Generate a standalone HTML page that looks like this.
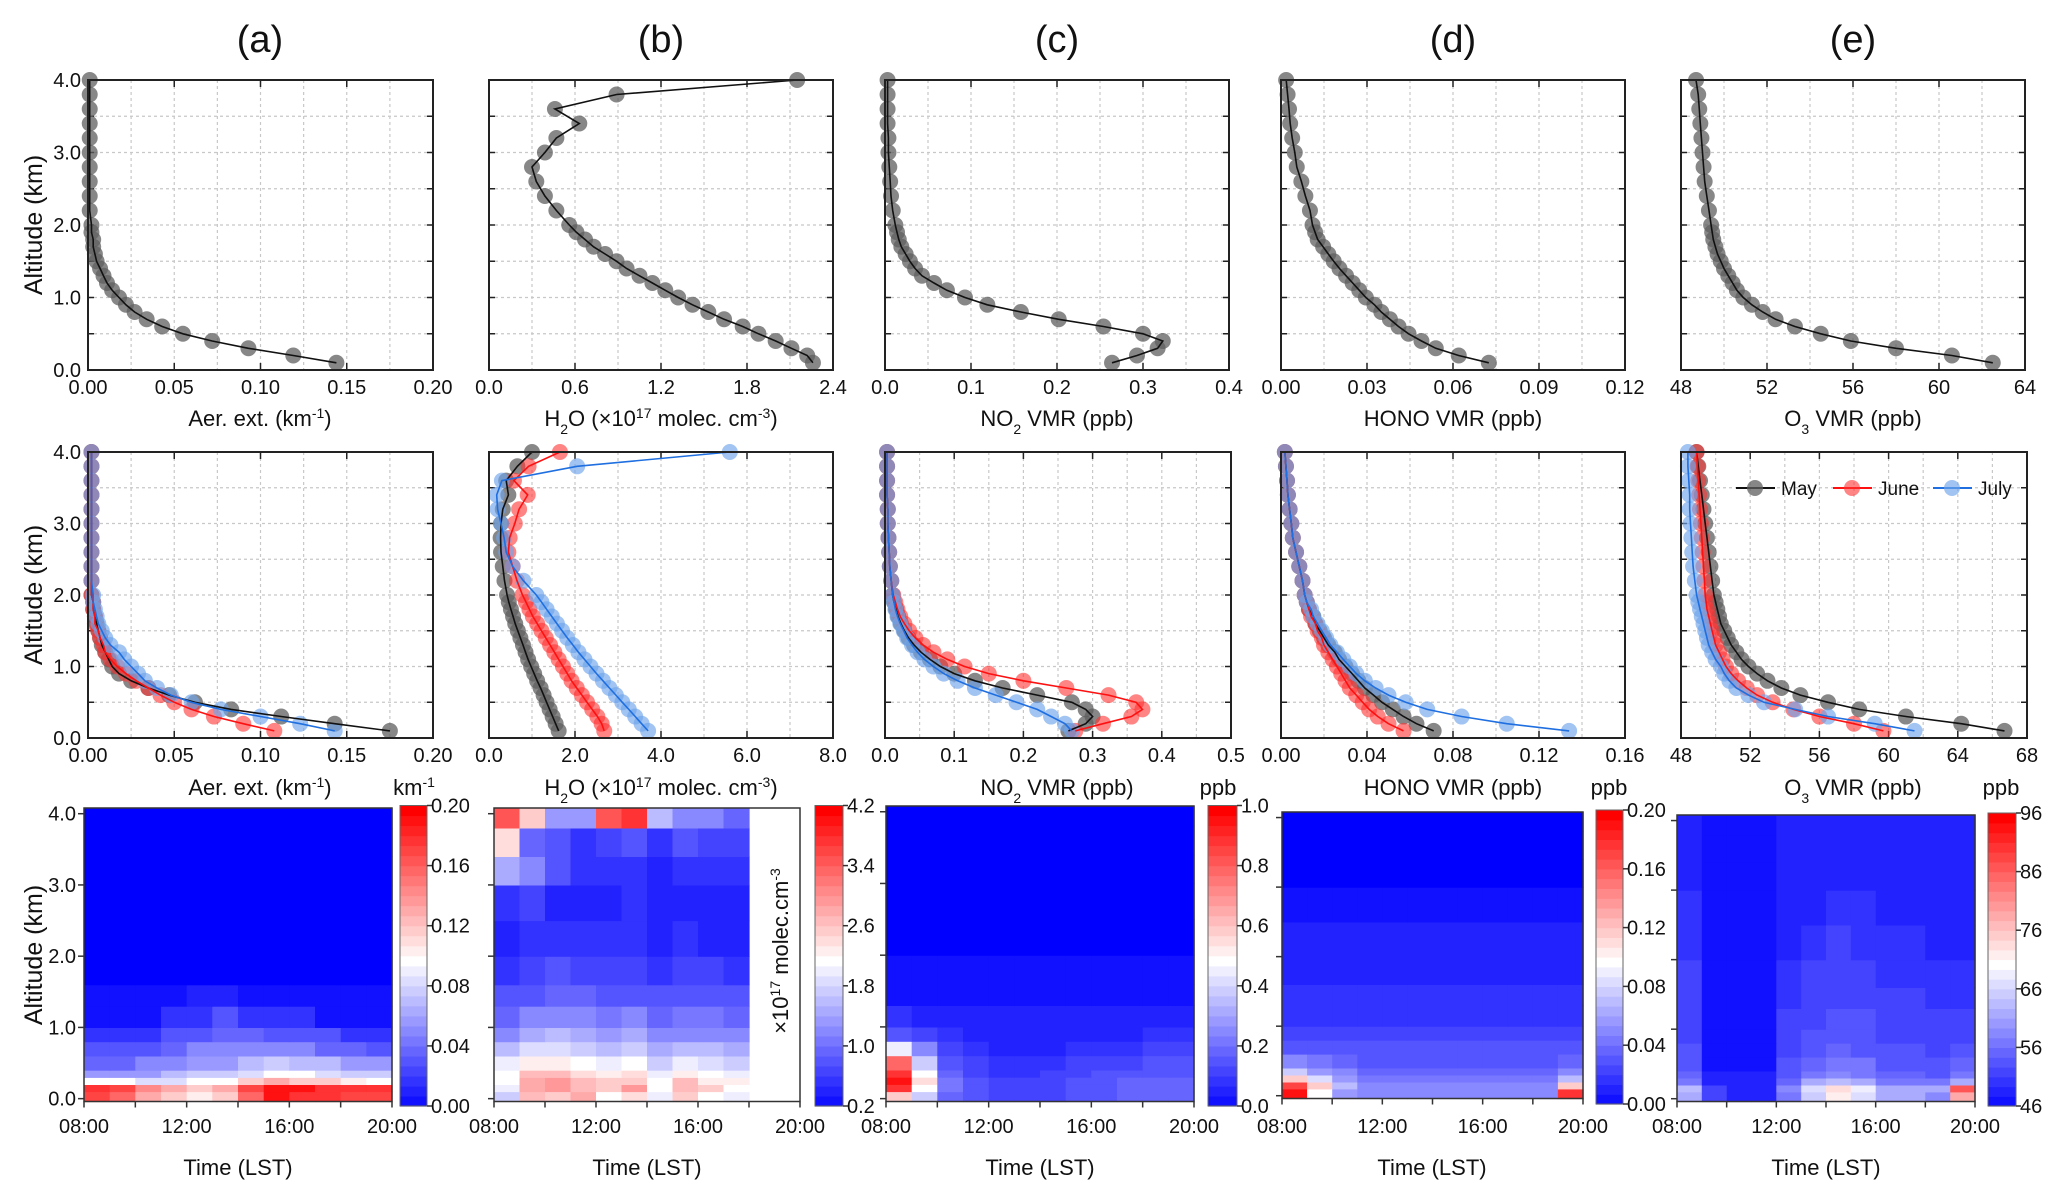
<!DOCTYPE html>
<html><head><meta charset="utf-8"><style>
html,body{margin:0;padding:0;background:#fff;}
svg{display:block;font-family:"Liberation Sans",sans-serif;}
</style></head><body>
<svg id="fig" width="2067" height="1199" viewBox="0 0 2067 1199" xmlns="http://www.w3.org/2000/svg">
<rect x="0" y="0" width="2067" height="1199" fill="#fff"/>
<g font-size="38" text-anchor="middle" fill="#111">
<text x="260" y="52">(a)</text>
<text x="661" y="52">(b)</text>
<text x="1057" y="52">(c)</text>
<text x="1453" y="52">(d)</text>
<text x="1853" y="52">(e)</text>
</g>
<g font-size="25" text-anchor="middle" fill="#111">
<text transform="translate(42,225) rotate(-90)">Altitude (km)</text>
<text transform="translate(42,595) rotate(-90)">Altitude (km)</text>
<text transform="translate(42,955) rotate(-90)">Altitude (km)</text>
</g>
<g font-size="22" text-anchor="middle" fill="#111">
<text x="260" y="426">Aer. ext. (km<tspan baseline-shift="super" font-size="14">-1</tspan>)</text>
<text x="661" y="426">H<tspan baseline-shift="sub" font-size="14">2</tspan>O (×10<tspan baseline-shift="super" font-size="14">17</tspan> molec. cm<tspan baseline-shift="super" font-size="14">-3</tspan>)</text>
<text x="1057" y="426">NO<tspan baseline-shift="sub" font-size="14">2</tspan> VMR (ppb)</text>
<text x="1453" y="426">HONO VMR (ppb)</text>
<text x="1853" y="426">O<tspan baseline-shift="sub" font-size="14">3</tspan> VMR (ppb)</text>
<text x="260" y="795">Aer. ext. (km<tspan baseline-shift="super" font-size="14">-1</tspan>)</text>
<text x="661" y="795">H<tspan baseline-shift="sub" font-size="14">2</tspan>O (×10<tspan baseline-shift="super" font-size="14">17</tspan> molec. cm<tspan baseline-shift="super" font-size="14">-3</tspan>)</text>
<text x="1057" y="795">NO<tspan baseline-shift="sub" font-size="14">2</tspan> VMR (ppb)</text>
<text x="1453" y="795">HONO VMR (ppb)</text>
<text x="1853" y="795">O<tspan baseline-shift="sub" font-size="14">3</tspan> VMR (ppb)</text>
<text x="238" y="1175">Time (LST)</text>
<text x="647" y="1175">Time (LST)</text>
<text x="1040" y="1175">Time (LST)</text>
<text x="1432" y="1175">Time (LST)</text>
<text x="1826" y="1175">Time (LST)</text>
<text x="414" y="795">km<tspan baseline-shift="super" font-size="14">-1</tspan></text>
<text x="1218" y="795">ppb</text>
<text x="1609" y="795">ppb</text>
<text x="2001" y="795">ppb</text>
<text transform="translate(788,951) rotate(-90)">×10<tspan baseline-shift="super" font-size="14">17</tspan> molec.cm<tspan baseline-shift="super" font-size="14">-3</tspan></text>
</g>
</svg>
<script>
// ---------- data ----------
const alt = [0.1,0.2,0.3,0.4,0.5,0.6,0.7,0.8,0.9,1.0,1.1,1.2,1.3,1.4,1.5,1.6,1.7,1.8,1.9,2.0,2.2,2.4,2.6,2.8,3.0,3.2,3.4,3.6,3.8,4.0];
const r1Aer = [0.144,0.119,0.093,0.072,0.055,0.043,0.034,0.027,0.022,0.018,0.014,0.011,0.009,0.007,0.005,0.004,0.003,0.003,0.002,0.002,0.001,0.001,0.001,0.001,0.001,0.001,0.001,0.001,0.001,0.001];
const r1H2O = [2.26,2.22,2.11,2.00,1.88,1.77,1.64,1.53,1.42,1.32,1.23,1.14,1.05,0.96,0.89,0.81,0.73,0.67,0.61,0.56,0.47,0.39,0.33,0.30,0.39,0.47,0.63,0.46,0.89,2.15];
const r1NO2 = [0.264,0.293,0.317,0.323,0.300,0.254,0.202,0.158,0.119,0.093,0.072,0.057,0.043,0.035,0.029,0.024,0.019,0.016,0.014,0.012,0.009,0.007,0.006,0.005,0.004,0.004,0.003,0.003,0.003,0.003];
const r1HONO = [0.0725,0.062,0.054,0.049,0.0445,0.041,0.038,0.035,0.0326,0.0296,0.0273,0.025,0.0227,0.0204,0.0184,0.0165,0.0147,0.0128,0.0119,0.011,0.0101,0.0085,0.0071,0.0055,0.0048,0.0039,0.0032,0.0028,0.0023,0.0018];
const r1O3 = [62.5,60.6,58.0,55.9,54.5,53.3,52.4,51.8,51.3,50.9,50.6,50.4,50.2,50.0,49.85,49.7,49.6,49.5,49.45,49.4,49.3,49.2,49.1,49.05,49.0,48.95,48.9,48.85,48.8,48.7];

const aerMay = [0.175,0.143,0.112,0.083,0.062,0.047,0.035,0.025,0.018,0.014,0.012,0.010,0.008,0.007,0.006,0.005,0.004,0.003,0.003,0.002,0.002,0.002,0.002,0.002,0.002,0.002,0.002,0.002,0.002,0.002];
const aerJun = [0.108,0.090,0.073,0.060,0.050,0.042,0.035,0.028,0.022,0.017,0.013,0.010,0.009,0.007,0.006,0.004,0.004,0.003,0.003,0.002,0.002,0.002,0.002,0.002,0.002,0.002,0.002,0.002,0.002,0.002];
const aerJul = [0.143,0.123,0.100,0.077,0.060,0.048,0.040,0.033,0.029,0.025,0.021,0.018,0.013,0.010,0.008,0.006,0.005,0.004,0.003,0.003,0.002,0.002,0.002,0.002,0.002,0.002,0.002,0.002,0.002,0.002];
const h2oMay = [1.62,1.55,1.48,1.41,1.34,1.27,1.20,1.12,1.05,0.98,0.91,0.85,0.79,0.73,0.67,0.61,0.56,0.51,0.46,0.42,0.36,0.32,0.28,0.27,0.28,0.32,0.45,0.40,0.66,1.0];
const h2oJun = [2.68,2.62,2.52,2.40,2.28,2.16,2.04,1.92,1.82,1.72,1.62,1.52,1.42,1.32,1.22,1.12,1.02,0.94,0.86,0.78,0.65,0.55,0.45,0.48,0.60,0.70,0.90,0.58,0.92,1.65];
const h2oJul = [3.70,3.55,3.40,3.25,3.10,2.95,2.80,2.65,2.50,2.36,2.22,2.08,1.95,1.82,1.70,1.58,1.46,1.34,1.22,1.10,0.80,0.55,0.40,0.35,0.28,0.20,0.18,0.30,2.05,5.6];
const no2May = [0.265,0.29,0.30,0.29,0.27,0.22,0.17,0.13,0.10,0.08,0.065,0.052,0.042,0.034,0.028,0.023,0.019,0.016,0.013,0.011,0.009,0.007,0.006,0.005,0.004,0.004,0.003,0.003,0.003,0.003];
const no2Jun = [0.275,0.315,0.356,0.372,0.363,0.323,0.262,0.20,0.15,0.115,0.09,0.07,0.055,0.044,0.035,0.028,0.022,0.018,0.015,0.012,0.009,0.007,0.006,0.005,0.004,0.004,0.003,0.003,0.003,0.003];
const no2Jul = [0.27,0.26,0.24,0.22,0.19,0.16,0.13,0.105,0.085,0.07,0.057,0.047,0.039,0.032,0.027,0.022,0.018,0.015,0.013,0.011,0.009,0.007,0.006,0.005,0.004,0.004,0.003,0.003,0.003,0.003];
const honoMay = [0.071,0.063,0.057,0.052,0.047,0.043,0.039,0.036,0.033,0.030,0.027,0.025,0.022,0.020,0.018,0.016,0.015,0.013,0.012,0.011,0.010,0.0085,0.007,0.0055,0.0048,0.004,0.0032,0.0028,0.0023,0.0018];
const honoJun = [0.057,0.050,0.045,0.041,0.038,0.035,0.032,0.030,0.028,0.026,0.024,0.022,0.020,0.019,0.017,0.016,0.014,0.013,0.012,0.011,0.010,0.0085,0.007,0.0055,0.0048,0.004,0.0032,0.0028,0.0023,0.0018];
const honoJul = [0.134,0.105,0.084,0.068,0.058,0.050,0.044,0.039,0.035,0.032,0.029,0.026,0.023,0.021,0.019,0.017,0.015,0.014,0.012,0.011,0.010,0.0085,0.007,0.0055,0.0048,0.004,0.0032,0.0028,0.0023,0.0018];
const o3May = [66.7,64.2,61.0,58.3,56.5,54.9,53.8,53.0,52.4,51.9,51.5,51.2,50.9,50.7,50.5,50.3,50.2,50.1,50.0,49.9,49.8,49.7,49.6,49.5,49.4,49.3,49.2,49.1,49.0,48.9];
const o3Jun = [59.7,58.0,56.0,54.5,53.3,52.4,51.8,51.3,50.9,50.6,50.4,50.2,50.0,49.9,49.8,49.7,49.6,49.5,49.45,49.4,49.35,49.3,49.25,49.2,49.15,49.1,49.05,49.0,48.95,48.9];
const o3Jul = [61.5,59.2,56.5,54.6,52.8,51.9,51.2,50.8,50.5,50.3,50.0,49.8,49.6,49.5,49.4,49.3,49.2,49.1,49.0,48.9,48.8,48.7,48.65,48.6,48.55,48.5,48.5,48.45,48.4,48.4];

// heatmaps: rows bottom->top by altEdges, columns hourly from timeEdges
const altEdges = [0,0.1,0.2,0.3,0.4,0.6,0.8,1.0,1.3,1.6,2.0,2.5,3.0,3.4,3.8,4.1];
const timeEdges = [8,9,10,11,12,13,14,15,16,17,18,19,20];
const heatAer = [
[0.17,0.16,0.13,0.12,0.11,0.12,0.16,0.19,0.18,0.18,0.17,0.17],
[0.18,0.17,0.15,0.13,0.12,0.13,0.17,0.19,0.19,0.18,0.18,0.18],
[0.10,0.10,0.09,0.09,0.10,0.10,0.12,0.13,0.12,0.12,0.11,0.10],
[0.06,0.06,0.06,0.07,0.08,0.08,0.09,0.10,0.10,0.09,0.08,0.08],
[0.04,0.04,0.05,0.05,0.06,0.06,0.07,0.08,0.07,0.07,0.06,0.06],
[0.03,0.03,0.03,0.04,0.05,0.05,0.05,0.05,0.05,0.04,0.04,0.03],
[0.02,0.02,0.02,0.03,0.03,0.04,0.04,0.03,0.03,0.03,0.02,0.02],
[0.01,0.01,0.01,0.02,0.02,0.03,0.02,0.02,0.02,0.01,0.01,0.01],
[0.005,0.005,0.01,0.01,0.015,0.015,0.01,0.01,0.01,0.005,0.005,0.005],
[0.002,0.002,0.002,0.002,0.002,0.002,0.002,0.002,0.002,0.002,0.002,0.002],
[0,0,0,0,0,0,0,0,0,0,0,0],[0,0,0,0,0,0,0,0,0,0,0,0],[0,0,0,0,0,0,0,0,0,0,0,0],
[0,0,0,0,0,0,0,0,0,0,0,0],[0,0,0,0,0,0,0,0,0,0,0,0]];
const heatH2O = [
[1.8,2.8,2.6,2.9,2.2,2.5,2.0,2.6,2.2,2.0,null,null],
[2.0,2.9,3.0,2.8,2.6,3.0,2.2,2.8,2.6,2.2,null,null],
[2.2,2.9,3.0,2.7,2.6,2.6,2.2,2.8,2.4,2.3,null,null],
[2.2,2.8,2.7,2.5,2.4,2.5,2.0,2.4,2.2,2.0,null,null],
[2.0,2.4,2.3,2.2,2.0,2.2,1.8,2.0,1.9,1.8,null,null],
[1.6,1.9,1.9,1.8,1.6,1.8,1.5,1.6,1.6,1.5,null,null],
[1.3,1.5,1.6,1.5,1.4,1.5,1.2,1.3,1.3,1.3,null,null],
[1.0,1.2,1.3,1.2,1.1,1.2,1.0,1.1,1.1,1.0,null,null],
[0.8,0.9,1.0,1.0,0.9,0.9,0.8,0.9,0.9,0.8,null,null],
[0.6,0.7,0.8,0.7,0.7,0.7,0.6,0.7,0.7,0.6,null,null],
[0.5,0.55,0.6,0.6,0.55,0.6,0.5,0.55,0.5,0.5,null,null],
[0.6,0.7,0.5,0.5,0.5,0.55,0.4,0.5,0.5,0.5,null,null],
[1.5,1.2,0.8,0.6,0.6,0.6,0.5,0.6,0.6,0.6,null,null],
[2.5,1.0,0.8,0.6,0.7,0.9,0.6,0.9,0.7,0.7,null,null],
[3.5,2.6,1.4,1.4,3.5,3.8,1.6,1.3,1.2,1.0,null,null]];
const heatNO2 = [
[0.6,0.4,0.2,0.15,0.12,0.12,0.13,0.15,0.18,0.2,0.2,0.2],
[0.9,0.5,0.22,0.15,0.12,0.12,0.13,0.15,0.18,0.2,0.2,0.2],
[0.95,0.55,0.22,0.15,0.12,0.12,0.13,0.15,0.17,0.19,0.19,0.19],
[0.9,0.5,0.2,0.13,0.11,0.11,0.12,0.14,0.16,0.17,0.18,0.18],
[0.8,0.4,0.18,0.12,0.1,0.1,0.1,0.12,0.13,0.14,0.15,0.15],
[0.45,0.25,0.12,0.1,0.08,0.08,0.08,0.09,0.1,0.11,0.12,0.12],
[0.18,0.13,0.1,0.08,0.06,0.06,0.06,0.07,0.08,0.08,0.09,0.09],
[0.1,0.08,0.06,0.05,0.05,0.05,0.05,0.05,0.06,0.06,0.06,0.06],
[0.04,0.04,0.04,0.04,0.04,0.04,0.04,0.04,0.04,0.04,0.04,0.04],
[0.02,0.02,0.02,0.02,0.02,0.02,0.02,0.02,0.02,0.02,0.02,0.02],
[0.01,0.01,0.01,0.01,0.01,0.01,0.01,0.01,0.01,0.01,0.01,0.01],
[0,0,0,0,0,0,0,0,0,0,0,0],[0,0,0,0,0,0,0,0,0,0,0,0],[0,0,0,0,0,0,0,0,0,0,0,0],[0,0,0,0,0,0,0,0,0,0,0,0]];
const heatHONO = [
[0.19,0.1,0.06,0.05,0.05,0.05,0.05,0.05,0.05,0.05,0.05,0.18],
[0.17,0.12,0.07,0.05,0.05,0.05,0.05,0.05,0.05,0.05,0.05,0.12],
[0.12,0.09,0.06,0.045,0.045,0.045,0.045,0.045,0.045,0.045,0.045,0.07],
[0.08,0.06,0.05,0.04,0.04,0.04,0.04,0.04,0.04,0.04,0.04,0.05],
[0.05,0.045,0.04,0.035,0.035,0.035,0.035,0.035,0.035,0.035,0.035,0.04],
[0.035,0.035,0.03,0.03,0.03,0.03,0.03,0.03,0.03,0.03,0.03,0.03],
[0.025,0.025,0.025,0.025,0.025,0.025,0.025,0.025,0.025,0.025,0.025,0.025],
[0.022,0.022,0.022,0.022,0.022,0.022,0.022,0.022,0.022,0.022,0.022,0.022],
[0.018,0.018,0.018,0.018,0.018,0.018,0.018,0.018,0.018,0.018,0.018,0.018],
[0.015,0.015,0.015,0.015,0.015,0.015,0.015,0.015,0.015,0.015,0.015,0.015],
[0.012,0.012,0.012,0.012,0.012,0.012,0.012,0.012,0.012,0.012,0.012,0.012],
[0.008,0.008,0.008,0.008,0.008,0.008,0.008,0.008,0.008,0.008,0.008,0.008],
[0.002,0.002,0.002,0.002,0.002,0.002,0.002,0.002,0.002,0.002,0.002,0.002],
[0.001,0.001,0.001,0.001,0.001,0.001,0.001,0.001,0.001,0.001,0.001,0.001],
[0.001,0.001,0.001,0.001,0.001,0.001,0.001,0.001,0.001,0.001,0.001,0.001]];
const heatO3 = [
[62,52,50,49,58,66,72,68,62,62,60,80],
[64,52,50,49,60,68,74,70,63,63,62,88],
[58,49,49,49,56,62,64,62,58,58,57,62],
[56,49,49,49,55,58,60,58,56,56,55,58],
[55,48,48,48,54,56,57,57,55,55,54,56],
[54,48,48,48,53,55,56,55,54,54,53,54],
[53,48,48,48,52,54,55,54,53,53,52,53],
[53,48,48,48,52,53,54,54,53,52,52,52],
[52,48,48,48,51,52,53,53,52,52,51,51],
[52,48,48,48,51,52,52,52,51,51,51,51],
[51,48,48,48,50,51,52,51,51,51,50,50],
[51,48,48,48,50,50,51,51,50,50,50,50],
[50,48,48,48,50,50,50,50,50,50,50,50],
[50,48,48,48,50,50,50,50,50,50,50,50],
[50,48,48,48,50,50,50,50,50,50,50,50]];
const cbAerTicks = ["0.00","0.04","0.08","0.12","0.16","0.20"];
const cbH2OTicks = ["0.2","1.0","1.8","2.6","3.4","4.2"];
const cbNO2Ticks = ["0.0","0.2","0.4","0.6","0.8","1.0"];
const cbHONOTicks = ["0.00","0.04","0.08","0.12","0.16","0.20"];
const cbO3Ticks = ["46","56","66","76","86","96"];
const timeTicks = ["08:00","12:00","16:00","20:00"];
const seriesNames = ["May","June","July"];

// ---------- drawing ----------
const NS = "http://www.w3.org/2000/svg";
const svg = document.getElementById("fig");
function mk(tag, a, parent){ const e=document.createElementNS(NS,tag); for(const k in a) e.setAttribute(k,a[k]); (parent||svg).appendChild(e); return e; }
function fmt(v,d){ return v.toFixed(d); }
const FILLS = {k:"rgba(95,95,95,0.75)", r:"rgba(255,50,50,0.6)", b:"rgba(110,165,235,0.65)"};
const LINES = {k:"#111", r:"#ff1010", b:"#1f6fe0"};

function profilePanel(P){
  const g = mk("g",{});
  
  
  const sx = v => P.x0 + (v-P.xmin)/(P.xmax-P.xmin)*(P.x1-P.x0);
  const sy = a => P.y1 - a/4*(P.y1-P.y0);
  for(let v=P.xmin+P.grid; v<P.xmax-1e-9; v+=P.grid){
    const l = mk("line",{x1:sx(v),x2:sx(v),y1:P.y0,y2:P.y1,stroke:"#c8c8c8","stroke-width":1.2,"stroke-dasharray":"3,3"},g);
    
    
  }
  for(let a=0.5; a<4; a+=0.5){
    const l = mk("line",{x1:P.x0,x2:P.x1,y1:sy(a),y2:sy(a),stroke:"#c8c8c8","stroke-width":1.2,"stroke-dasharray":"3,3"},g);
    
    
    const t1 = mk("line",{x1:P.x0,x2:P.x0+6,y1:sy(a),y2:sy(a),stroke:"#222","stroke-width":1.5},g);
    
    
    const t2 = mk("line",{x1:P.x1-6,x2:P.x1,y1:sy(a),y2:sy(a),stroke:"#222","stroke-width":1.5},g);
    
    
  }
  for(let v=P.xmin; v<=P.xmax+1e-9; v+=P.step){
    const tk = mk("line",{x1:sx(v),x2:sx(v),y1:P.y1,y2:P.y1-7,stroke:"#222","stroke-width":1.5},g);
    
    
    const tt = mk("line",{x1:sx(v),x2:sx(v),y1:P.y0,y2:P.y0+7,stroke:"#222","stroke-width":1.5},g);
    
    
    const lb = mk("text",{x:sx(v),y:P.y1+24,"font-size":20,"text-anchor":"middle",fill:"#111"},g);
    lb.textContent = fmt(v,P.dec);
    
    
  }
  if(P.ylabels){
    for(let a=0; a<=4; a+=1){
      const lb = mk("text",{x:P.x0-7,y:sy(a)+7,"font-size":20,"text-anchor":"end",fill:"#111"},g);
      lb.textContent = fmt(a,1);
      
      
    }
  }
  P.series.forEach(s=>{
    s.vals.forEach((v,i)=>{
      const c = mk("circle",{cx:sx(v),cy:sy(alt[i]),r:8,fill:FILLS[s.c]},g);
      
      
    });
  });
  P.series.forEach(s=>{
    const pts = s.vals.map((v,i)=>sx(v).toFixed(1)+","+sy(alt[i]).toFixed(1)).join(" ");
    const pl = mk("polyline",{points:pts,fill:"none",stroke:LINES[s.c],"stroke-width":1.6},g);
    
    
  });
  const fr = mk("rect",{x:P.x0,y:P.y0,width:P.x1-P.x0,height:P.y1-P.y0,fill:"none",stroke:"#222","stroke-width":2},g);
  
  
}

const X0=[88,489,885,1281,1681], X1=[433,833,1229,1625,2025];
profilePanel({name:"profile-1a",x0:X0[0],x1:X1[0],y0:80,y1:370,xmin:0,xmax:0.2,step:0.05,grid:0.025,dec:2,ylabels:true,series:[{vals:r1Aer,c:"k",label:"mean"}]});
profilePanel({name:"profile-1b",x0:X0[1],x1:X1[1],y0:80,y1:370,xmin:0,xmax:2.4,step:0.6,grid:0.3,dec:1,series:[{vals:r1H2O,c:"k",label:"mean"}]});
profilePanel({name:"profile-1c",x0:X0[2],x1:X1[2],y0:80,y1:370,xmin:0,xmax:0.4,step:0.1,grid:0.05,dec:1,series:[{vals:r1NO2,c:"k",label:"mean"}]});
profilePanel({name:"profile-1d",x0:X0[3],x1:X1[3],y0:80,y1:370,xmin:0,xmax:0.12,step:0.03,grid:0.015,dec:2,series:[{vals:r1HONO,c:"k",label:"mean"}]});
profilePanel({name:"profile-1e",x0:X0[4],x1:X1[4],y0:80,y1:370,xmin:48,xmax:64,step:4,grid:2,dec:0,series:[{vals:r1O3,c:"k",label:"mean"}]});
profilePanel({name:"profile-2a",x0:X0[0],x1:X1[0],y0:452,y1:738,xmin:0,xmax:0.2,step:0.05,grid:0.025,dec:2,ylabels:true,series:[{vals:aerMay,c:"k",label:"may"},{vals:aerJun,c:"r",label:"june"},{vals:aerJul,c:"b",label:"july"}]});
profilePanel({name:"profile-2b",x0:X0[1],x1:X1[1],y0:452,y1:738,xmin:0,xmax:8,step:2,grid:1,dec:1,series:[{vals:h2oMay,c:"k",label:"may"},{vals:h2oJun,c:"r",label:"june"},{vals:h2oJul,c:"b",label:"july"}]});
profilePanel({name:"profile-2c",x0:X0[2],x1:X1[2]+2,y0:452,y1:738,xmin:0,xmax:0.5,step:0.1,grid:0.05,dec:1,series:[{vals:no2May,c:"k",label:"may"},{vals:no2Jun,c:"r",label:"june"},{vals:no2Jul,c:"b",label:"july"}]});
profilePanel({name:"profile-2d",x0:X0[3],x1:X1[3],y0:452,y1:738,xmin:0,xmax:0.16,step:0.04,grid:0.02,dec:2,series:[{vals:honoMay,c:"k",label:"may"},{vals:honoJun,c:"r",label:"june"},{vals:honoJul,c:"b",label:"july"}]});
profilePanel({name:"profile-2e",x0:X0[4],x1:X1[4]+2,y0:452,y1:738,xmin:48,xmax:68,step:4,grid:2,dec:0,series:[{vals:o3May,c:"k",label:"may"},{vals:o3Jun,c:"r",label:"june"},{vals:o3Jul,c:"b",label:"july"}]});

const legX = [1736,1833,1933];
const legC = ["k","r","b"];
seriesNames.forEach((nm,i)=>{
  const lg = mk("g",{});
  
  
  mk("line",{x1:legX[i],x2:legX[i]+39,y1:488,y2:488,stroke:LINES[legC[i]],"stroke-width":2},lg);
  mk("circle",{cx:legX[i]+19,cy:488,r:8,fill:FILLS[legC[i]]},lg);
  const t = mk("text",{x:legX[i]+45,y:495,"font-size":19,fill:"#111"},lg);
  t.textContent = nm;
});

function cmap(f){
  f = Math.max(0,Math.min(1,f));
  f = Math.round(f*30)/30;
  if(f<0.5){ const c=Math.round(f*2*255); return `rgb(${c},${c},255)`; }
  const c=Math.round((2-2*f)*255); return `rgb(255,${c},${c})`;
}
function heatPanel(H){
  const g = mk("g",{});
  
  
  const w = H.x1-H.x0, h = H.y1-H.y0;
  const sx = t => H.x0 + (t-8)/12*w;
  const sy = a => H.y1 - (a+0.04)/4.12*h;
  H.data.forEach((row,ri)=>{
    row.forEach((v,ci)=>{
      if(v===null) return;
      const xa=sx(timeEdges[ci]), xb=sx(timeEdges[ci+1]);
      const ya=sy(altEdges[ri+1]), yb=sy(altEdges[ri]);
      const y0 = Math.max(ya,H.y0), y1 = ri===0?H.y1:yb;
      const r = mk("rect",{x:xa.toFixed(1),y:y0.toFixed(1),width:(xb-xa+0.6).toFixed(1),height:(y1-y0+0.6).toFixed(1),fill:cmap((v-H.vmin)/(H.vmax-H.vmin))},g);
      
      
    });
  });
  const fr = mk("rect",{x:H.x0,y:H.y0,width:w,height:h,fill:"none",stroke:"#333","stroke-width":1.5},g);
  
  
  for(let a=0;a<=4;a+=1){
    const tk = mk("line",{x1:H.x0-6,x2:H.x0,y1:sy(a),y2:sy(a),stroke:"#333","stroke-width":1.5},g);
    
    
    if(H.ylabels){
      const lb = mk("text",{x:H.x0-8,y:sy(a)+7,"font-size":20,"text-anchor":"end",fill:"#111"},g);
      lb.textContent = fmt(a,1);
      
      
    }
  }
  for(let t=8;t<=20;t+=2){
    const tk = mk("line",{x1:sx(t),x2:sx(t),y1:H.y1,y2:H.y1+6,stroke:"#333","stroke-width":1.5},g);
    
    
  }
  timeTicks.forEach((s,i)=>{
    const lb = mk("text",{x:sx(8+4*i),y:1133,"font-size":20,"text-anchor":"middle",fill:"#111"},g);
    lb.textContent = s;
    
    
  });
  const cb = mk("g",{},g);
  
  
  const n=30, ch=(H.cy1-H.cy0)/n;
  for(let k=0;k<n;k++){
    mk("rect",{x:H.cx0,y:(H.cy1-(k+1)*ch).toFixed(1),width:H.cx1-H.cx0,height:(ch+0.6).toFixed(1),fill:cmap((k+0.5)/n)},cb);
  }
  mk("rect",{x:H.cx0,y:H.cy0,width:H.cx1-H.cx0,height:H.cy1-H.cy0,fill:"none",stroke:"#666","stroke-width":1},cb);
  H.ticks.forEach((s,i)=>{
    const y = H.cy1 - i/(H.ticks.length-1)*(H.cy1-H.cy0);
    mk("line",{x1:H.cx1,x2:H.cx1+5,y1:y,y2:y,stroke:"#333","stroke-width":1.5},cb);
    const lb = mk("text",{x:H.cx1+4,y:y+7,"font-size":20,fill:"#111"},cb);
    lb.textContent = s;
    
    
  });
}
heatPanel({name:"heatmap-aerosol",x0:84,x1:392,y0:808,y1:1101.5,data:heatAer,vmin:0,vmax:0.2,ylabels:true,cx0:400,cx1:427,cy0:805.5,cy1:1106,ticks:cbAerTicks});
heatPanel({name:"heatmap-h2o",x0:494,x1:800,y0:808,y1:1101.5,data:heatH2O,vmin:0.2,vmax:4.2,cx0:815,cx1:843,cy0:805.5,cy1:1106,ticks:cbH2OTicks});
heatPanel({name:"heatmap-no2",x0:886,x1:1194,y0:806,y1:1101.5,data:heatNO2,vmin:0,vmax:1.0,cx0:1208,cx1:1237,cy0:805.5,cy1:1106,ticks:cbNO2Ticks});
heatPanel({name:"heatmap-hono",x0:1282,x1:1583,y0:812,y1:1098.5,data:heatHONO,vmin:0,vmax:0.2,cx0:1596,cx1:1623,cy0:810,cy1:1104,ticks:cbHONOTicks});
heatPanel({name:"heatmap-o3",x0:1677,x1:1975,y0:815,y1:1101.5,data:heatO3,vmin:46,vmax:96,cx0:1988,cx1:2016,cy0:813,cy1:1106,ticks:cbO3Ticks});
</script>
</body></html>
